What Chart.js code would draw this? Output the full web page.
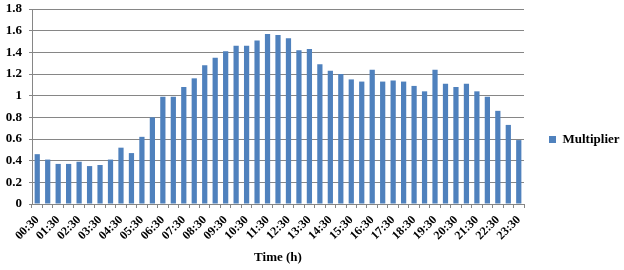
<!DOCTYPE html>
<html><head><meta charset="utf-8">
<script src="https://cdn.jsdelivr.net/npm/chart.js@4/dist/chart.umd.min.js"></script>
<style>html,body{margin:0;padding:0;background:#fff}#wrap{width:624px;height:270px}</style>
</head><body><div id="wrap"><canvas id="c" width="624" height="270"></canvas></div>
<script>
const categories = ["00:30","01:00","01:30","02:00","02:30","03:00","03:30","04:00","04:30","05:00","05:30","06:00","06:30","07:00","07:30","08:00","08:30","09:00","09:30","10:00","10:30","11:00","11:30","12:00","12:30","13:00","13:30","14:00","14:30","15:00","15:30","16:00","16:30","17:00","17:30","18:00","18:30","19:00","19:30","20:00","20:30","21:00","21:30","22:00","22:30","23:00","23:30"];
const multiplier = [0.46,0.41,0.37,0.37,0.39,0.35,0.36,0.41,0.52,0.47,0.62,0.80,0.99,0.99,1.08,1.16,1.28,1.35,1.41,1.46,1.46,1.51,1.57,1.56,1.53,1.42,1.43,1.29,1.23,1.20,1.15,1.13,1.24,1.13,1.14,1.13,1.09,1.04,1.24,1.11,1.08,1.11,1.04,0.99,0.86,0.73,0.59];
const yTicks = [0,0.2,0.4,0.6,0.8,1,1.2,1.4,1.6,1.8];
const seriesName = "Multiplier";
const xTitle = "Time (h)";

const serif = "'Liberation Serif','Times New Roman',serif";
const grey = "#868686";
new Chart(document.getElementById('c'), {
  type: 'bar',
  data: { labels: categories, datasets: [{ label: seriesName, data: multiplier, backgroundColor: '#4F81BD', borderWidth: 0, barPercentage: 0.5, categoryPercentage: 1 }] },
  options: {
    responsive: false, animation: false,
    layout: { padding: { left: 0, right: 0, top: 9, bottom: 0 } },
    plugins: {
      legend: { position: 'right', maxWidth: 100, labels: { boxWidth: 7, boxHeight: 7, padding: 25, color: '#000', font: { family: serif, size: 13, weight: 'bold' } } },
      tooltip: { enabled: false }
    },
    scales: {
      x: {
        grid: { display: true, drawOnChartArea: false, drawTicks: true, tickLength: 4, color: grey, offset: true },
        border: { color: grey },
        ticks: { autoSkip: false, maxRotation: 45, minRotation: 45, padding: 5, color: '#000', font: { family: serif, size: 12, weight: 'bold' },
          callback: function(v, i) { return i % 2 === 0 ? categories[i] : ''; } },
        title: { display: true, text: xTitle, color: '#000', font: { family: serif, size: 13, weight: 'bold' }, padding: { top: 4, bottom: 5 } },
        afterFit: s => { s.height = 66; }
      },
      y: {
        min: 0, max: 1.8,
        afterBuildTicks: s => { s.ticks = yTicks.map(v => ({ value: v })); },
        grid: { color: grey, drawTicks: true, tickLength: 3 },
        border: { color: grey },
        ticks: { padding: 7, color: '#000', font: { family: serif, size: 13, weight: 'bold' }, callback: v => String(+(+v).toFixed(1)) },
        afterFit: s => { s.width = 32; s.paddingTop = 0; s.paddingBottom = 0; }
      }
    }
  }
});
</script></body></html>
